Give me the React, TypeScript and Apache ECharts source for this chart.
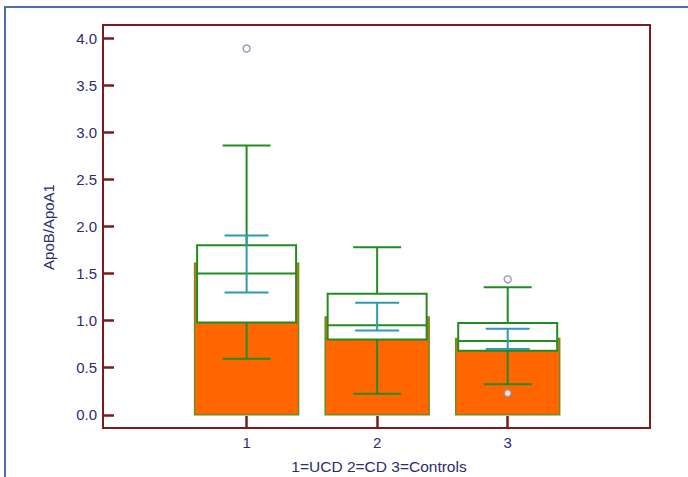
import React, { useEffect, useRef } from "react";
import * as echarts from "echarts";

// Groups: 1=UCD 2=CD 3=Controls
const categories = [1, 2, 3];
const categoryTicks = [1, 2, 3];
const yTicks = [0, 0.5, 1.0, 1.5, 2.0, 2.5, 3.0, 3.5, 4.0];

// Mean bars (orange)
const means = [1.61, 1.04, 0.81];
// Box plot statistics
const q1 = [0.98, 0.8, 0.68];
const medians = [1.5, 0.95, 0.785];
const q3 = [1.8, 1.285, 0.975];
const whiskerLow = [0.595, 0.225, 0.325];
const whiskerHigh = [2.86, 1.78, 1.355];
// Confidence interval of the median (teal)
const ciLow = [1.3, 0.895, 0.7];
const ciHigh = [1.905, 1.19, 0.915];
// Outliers: [group, value]
const outliers = [
  [1, 3.89],
  [3, 1.44],
  [3, 0.23],
];

const xTitle = "1=UCD 2=CD 3=Controls";
const yTitle = "ApoB/ApoA1";

const AXIS_RED = "#7B1C1C";
const TEXT = "#2C2B74";
const GREEN = "#228B22";
const TEAL = "#2E9AB0";
const ORANGE = "#FF6600";
const BAR_EDGE = "#6B8E23";
const FONT = "Liberation Sans, Arial, sans-serif";

export default function App() {
  const ref = useRef<HTMLDivElement>(null);

  useEffect(() => {
    if (!ref.current) return;
    const chart = echarts.init(ref.current, null, { renderer: "svg" });

    const data = categories.map((c, i) => [
      c,
      means[i],
      q1[i],
      medians[i],
      q3[i],
      whiskerLow[i],
      whiskerHigh[i],
      ciLow[i],
      ciHigh[i],
    ]);

    const renderItem = (params: any, api: any) => {
      const x = api.value(0);
      const yv = (k: number) => api.coord([x, api.value(k)])[1];
      const cx = api.coord([x, 0])[0];
      const y0 = api.coord([x, 0])[1];
      const yMean = yv(1);
      const yQ1 = yv(2);
      const yMed = yv(3);
      const yQ3 = yv(4);
      const yWl = yv(5);
      const yWh = yv(6);
      const yCl = yv(7);
      const yCh = yv(8);
      const barHalf = 52;
      const boxHalf = 49.5;
      const capHalf = 24;
      const ciHalf = 22;
      const gLine = { stroke: GREEN, lineWidth: 2 };
      const tLine = { stroke: TEAL, lineWidth: 2 };
      const ln = (x1: number, y1: number, x2: number, y2: number, style: any) => ({
        type: "line",
        shape: { x1, y1, x2, y2 },
        style,
      });
      return {
        type: "group",
        children: [
          {
            type: "rect",
            shape: { x: cx - barHalf, y: yMean, width: barHalf * 2, height: y0 - yMean },
            style: { fill: ORANGE, stroke: BAR_EDGE, lineWidth: 1.5 },
          },
          {
            type: "rect",
            shape: { x: cx - boxHalf, y: yQ3, width: boxHalf * 2, height: yQ1 - yQ3 },
            style: { fill: "#ffffff", stroke: GREEN, lineWidth: 2 },
          },
          ln(cx - boxHalf, yMed, cx + boxHalf, yMed, gLine),
          ln(cx, yQ3, cx, yWh, gLine),
          ln(cx - capHalf, yWh, cx + capHalf, yWh, gLine),
          ln(cx, yQ1, cx, yWl, gLine),
          ln(cx - capHalf, yWl, cx + capHalf, yWl, gLine),
          ln(cx, yCl, cx, yCh, tLine),
          ln(cx - ciHalf, yCh, cx + ciHalf, yCh, tLine),
          ln(cx - ciHalf, yCl, cx + ciHalf, yCl, tLine),
        ],
      };
    };

    chart.setOption({
      animation: false,
      backgroundColor: "#ffffff",
      grid: {
        left: 103,
        right: 38,
        top: 25,
        bottom: 49,
        show: true,
        borderColor: AXIS_RED,
        borderWidth: 2,
        backgroundColor: "transparent",
      },
      xAxis: {
        type: "value",
        min: -0.1,
        max: 4.09,
        axisLine: { show: false, onZero: false },
        splitLine: { show: false },
        axisTick: {
          show: true,
          inside: true,
          length: 12,
          customValues: categoryTicks,
          lineStyle: { color: AXIS_RED, width: 2.5 },
        },
        axisLabel: {
          show: true,
          customValues: categoryTicks,
          margin: 7,
          color: TEXT,
          fontSize: 15,
          fontFamily: FONT,
          formatter: (v: number) => String(v),
        },
      },
      yAxis: {
        type: "value",
        min: -0.14,
        max: 4.14,
        axisLine: { show: false, onZero: false },
        splitLine: { show: false },
        axisTick: {
          show: true,
          inside: true,
          length: 11,
          customValues: yTicks,
          lineStyle: { color: AXIS_RED, width: 2.5 },
        },
        axisLabel: {
          show: true,
          customValues: yTicks,
          margin: 6,
          color: TEXT,
          fontSize: 15,
          fontFamily: FONT,
          formatter: (v: number) => v.toFixed(1),
        },
      },
      graphic: [
        {
          type: "polyline",
          shape: { points: [[5, 477], [5, 7], [688, 7]] },
          style: { stroke: "#4A6EB0", lineWidth: 2, fill: null },
          silent: true,
        },
        {
          type: "text",
          x: 379,
          y: 466,
          style: {
            text: xTitle,
            fill: TEXT,
            font: `15.5px ${FONT}`,
            textAlign: "center",
            textVerticalAlign: "middle",
          },
        },
        {
          type: "text",
          x: 48,
          y: 227,
          rotation: Math.PI / 2,
          style: {
            text: yTitle,
            fill: TEXT,
            font: `15px ${FONT}`,
            textAlign: "center",
            textVerticalAlign: "middle",
          },
        },
      ],
      series: [
        {
          type: "custom",
          renderItem,
          data,
          encode: { x: 0, y: [1, 2, 3, 4, 5, 6, 7, 8] },
          clip: false,
          z: 2,
        },
        {
          type: "scatter",
          data: outliers,
          symbol: "circle",
          symbolSize: 7,
          itemStyle: { color: "#ffffff", borderColor: "#8A88AA", borderWidth: 1.5 },
          z: 3,
        },
      ],
    });

    return () => {
      chart.dispose();
    };
  }, []);

  return (
    <div
      ref={ref}
      style={{ position: "fixed", left: 0, top: 0, width: 688, height: 477 }}
    />
  );
}
